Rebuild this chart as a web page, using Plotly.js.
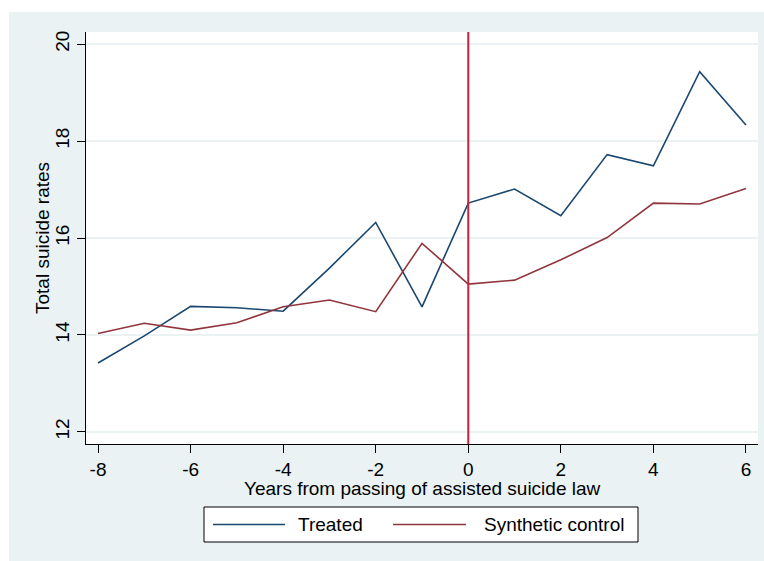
<!DOCTYPE html>
<html>
<head>
<meta charset="utf-8">
<script src="https://cdn.plot.ly/plotly-3.0.1.min.js"></script>
<style>html,body{margin:0;padding:0;background:#fff;}#chart{width:764px;height:561px;}</style>
</head>
<body>
<div id="chart"></div>
<script>
// ---- data ----
const years = [-8, -7, -6, -5, -4, -3, -2, -1, 0, 1, 2, 3, 4, 5, 6];
const treated = [13.42, 13.98, 14.59, 14.56, 14.49, 15.38, 16.32, 14.58, 16.72, 17.01, 16.46, 17.72, 17.49, 19.43, 18.33];
const synthetic = [14.03, 14.24, 14.10, 14.25, 14.58, 14.72, 14.48, 15.89, 15.05, 15.13, 15.55, 16.01, 16.72, 16.70, 17.02];
const seriesNames = ['Treated', 'Synthetic control'];
const treatmentYear = 0;
const xTicks = [-8, -6, -4, -2, 0, 2, 4, 6];
const xTickLabels = ['-8', '-6', '-4', '-2', '0', '2', '4', '6'];
const yTicks = [12, 14, 16, 18, 20];
const xTitle = 'Years from passing of assisted suicide law';
const yTitle = 'Total suicide rates';

// ---- styling ----
const W = 764, H = 561;
const M = {l: 86, r: 6, t: 32, b: 117};
const PW = W - M.l - M.r, PH = H - M.t - M.b;
const px = v => (v - M.l) / PW;          // pixel x -> paper
const py = v => (M.t + PH - v) / PH;     // pixel y -> paper
const bg = '#EAF2F3';
const colors = ['#1A476F', '#90353B'];
const font = {family: 'Liberation Sans, Arial, sans-serif', size: 19, color: '#000'};

const traces = [
  {x: years, y: treated, name: seriesNames[0], type: 'scatter', mode: 'lines',
   line: {color: colors[0], width: 1.6}, showlegend: false},
  {x: years, y: synthetic, name: seriesNames[1], type: 'scatter', mode: 'lines',
   line: {color: colors[1], width: 1.6}, showlegend: false}
];

const legY = 524.5;
const shapes = [
  // white strips outside the grey graph region
  {type: 'rect', xref: 'paper', yref: 'paper', x0: px(0), x1: px(9), y0: py(H), y1: py(0),
   fillcolor: '#fff', line: {width: 0}, layer: 'below'},
  {type: 'rect', xref: 'paper', yref: 'paper', x0: px(0), x1: px(W), y0: py(12), y1: py(0),
   fillcolor: '#fff', line: {width: 0}, layer: 'below'},
  // treatment line
  {type: 'line', xref: 'x', yref: 'paper', x0: treatmentYear, x1: treatmentYear, y0: 0, y1: 1,
   line: {color: '#C8203F', width: 2}},
  // legend box
  {type: 'rect', xref: 'paper', yref: 'paper', x0: px(204), x1: px(638), y0: py(542), y1: py(507),
   fillcolor: '#fff', line: {color: '#000', width: 1}},
  {type: 'line', xref: 'paper', yref: 'paper', x0: px(213), x1: px(285), y0: py(legY), y1: py(legY),
   line: {color: colors[0], width: 1.6}},
  {type: 'line', xref: 'paper', yref: 'paper', x0: px(393), x1: px(466), y0: py(legY), y1: py(legY),
   line: {color: colors[1], width: 1.6}}
];

const annotations = [
  {xref: 'paper', yref: 'paper', x: px(296), y: py(legY), xanchor: 'left', yanchor: 'middle',
   text: seriesNames[0], showarrow: false, font: font},
  {xref: 'paper', yref: 'paper', x: px(482), y: py(legY), xanchor: 'left', yanchor: 'middle',
   text: seriesNames[1], showarrow: false, font: font},
  {xref: 'paper', yref: 'paper', x: px(42), y: 0.5, xanchor: 'center', yanchor: 'middle',
   textangle: -90, text: yTitle, showarrow: false, font: font},
  {xref: 'paper', yref: 'paper', x: 0.5, y: py(488), xanchor: 'center', yanchor: 'middle',
   text: xTitle, showarrow: false, font: font}
];

const layout = {
  width: W, height: H,
  margin: M,
  paper_bgcolor: bg,
  plot_bgcolor: '#fff',
  font: font,
  showlegend: false,
  xaxis: {
    range: [-8.26, 6.26], tickvals: xTicks, ticktext: xTickLabels, ticks: 'outside', ticklen: 8, tickcolor: '#000',
    tickwidth: 1, showline: true, linecolor: '#000', linewidth: 1, showgrid: false, zeroline: false,
    tickfont: font
  },
  yaxis: {
    range: [11.75, 20.25], tickvals: yTicks, ticks: 'outside', ticklen: 8, tickcolor: '#000',
    tickwidth: 1, showline: true, linecolor: '#000', linewidth: 1, showgrid: true,
    gridcolor: bg, gridwidth: 1.5, zeroline: false, tickangle: -90,
    tickfont: font
  },
  shapes: shapes,
  annotations: annotations
};

Plotly.newPlot('chart', traces, layout, {displayModeBar: false, staticPlot: true});
</script>
</body>
</html>
